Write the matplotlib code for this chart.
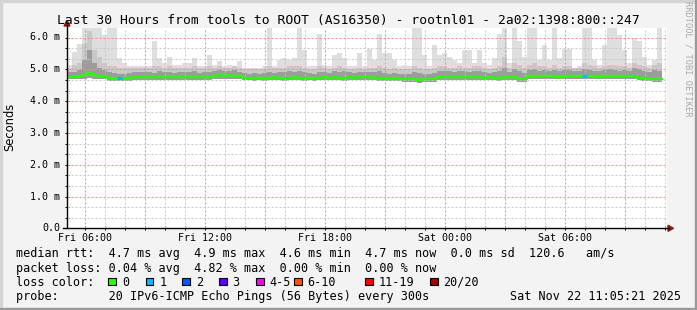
import numpy as np
import matplotlib
matplotlib.use('Agg')
import matplotlib.pyplot as plt
from matplotlib.patches import Rectangle, Polygon
from matplotlib.lines import Line2D

# ---- data (5 minute pings aggregated to 15 minute bins, values in ms) ----
t_start = 5.089   # hours since Fri 00:00
bin_h = 0.25

median = [4.76, 4.77, 4.79, 4.82, 4.87, 4.82, 4.80, 4.79, 4.74, 4.70,
          4.73, 4.71, 4.73, 4.76, 4.75, 4.76, 4.77, 4.75, 4.76, 4.77,
          4.76, 4.75, 4.77, 4.76, 4.75, 4.77, 4.76, 4.75, 4.76, 4.78,
          4.81, 4.80, 4.81, 4.80, 4.78, 4.74, 4.74, 4.73, 4.74, 4.73,
          4.74, 4.75, 4.74, 4.73, 4.74, 4.75, 4.74, 4.73, 4.74, 4.72,
          4.74, 4.75, 4.74, 4.75, 4.74, 4.73, 4.75, 4.74, 4.75, 4.76,
          4.75, 4.74, 4.73, 4.72, 4.71, 4.72, 4.71, 4.68, 4.69, 4.68,
          4.67, 4.68, 4.69, 4.70, 4.75, 4.76, 4.77, 4.76, 4.77, 4.76,
          4.77, 4.76, 4.75, 4.74, 4.75, 4.74, 4.73, 4.75, 4.76, 4.76,
          4.70, 4.68, 4.79, 4.80, 4.79, 4.78, 4.79, 4.78, 4.77, 4.78,
          4.79, 4.78, 4.78, 4.79, 4.80, 4.78, 4.77, 4.78, 4.79, 4.78,
          4.79, 4.80, 4.80, 4.78, 4.74, 4.72, 4.71, 4.70, 4.69, 4.70]

smoke_lo = [4.68, 4.68, 4.69, 4.70, 4.72, 4.70, 4.70, 4.68, 4.64, 4.62,
            4.63, 4.62, 4.64, 4.66, 4.66, 4.66, 4.67, 4.66, 4.66, 4.67,
            4.66, 4.66, 4.67, 4.66, 4.66, 4.67, 4.66, 4.66, 4.66, 4.68,
            4.70, 4.70, 4.70, 4.70, 4.68, 4.65, 4.65, 4.64, 4.65, 4.64,
            4.65, 4.65, 4.65, 4.64, 4.65, 4.65, 4.65, 4.64, 4.65, 4.63,
            4.65, 4.65, 4.65, 4.65, 4.65, 4.64, 4.65, 4.65, 4.65, 4.66,
            4.65, 4.65, 4.64, 4.63, 4.62, 4.63, 4.62, 4.59, 4.60, 4.59,
            4.58, 4.59, 4.60, 4.61, 4.66, 4.67, 4.67, 4.67, 4.67, 4.67,
            4.67, 4.67, 4.66, 4.65, 4.66, 4.65, 4.64, 4.66, 4.67, 4.67,
            4.61, 4.59, 4.70, 4.71, 4.70, 4.69, 4.70, 4.69, 4.68, 4.69,
            4.70, 4.69, 4.69, 4.70, 4.71, 4.69, 4.68, 4.69, 4.70, 4.69,
            4.70, 4.71, 4.71, 4.69, 4.65, 4.63, 4.62, 4.61, 4.60, 4.61]

smoke_core = [4.90, 4.92, 4.98, 5.30, 5.60, 5.20, 5.05, 4.98, 4.92, 4.88,
              4.86, 4.85, 4.88, 4.90, 4.90, 4.92, 4.90, 4.88, 4.95, 4.90,
              4.92, 4.88, 4.90, 4.92, 4.90, 4.95, 4.88, 4.90, 4.92, 4.95,
              4.98, 4.96, 4.95, 4.98, 4.92, 4.88, 4.86, 4.88, 4.86, 4.88,
              4.90, 4.88, 4.92, 4.90, 4.95, 4.92, 4.94, 4.90, 4.88, 4.86,
              4.92, 4.90, 4.88, 4.95, 4.92, 4.94, 4.90, 4.88, 4.90, 4.92,
              4.90, 4.92, 4.94, 4.88, 4.86, 4.88, 4.85, 4.84, 4.86, 4.90,
              4.88, 4.84, 4.86, 4.88, 4.94, 4.96, 4.95, 4.92, 4.96, 4.94,
              4.92, 4.95, 4.96, 4.90, 4.88, 4.92, 4.94, 5.05, 4.92, 5.00,
              4.95, 4.88, 4.98, 5.00, 4.96, 4.98, 4.95, 4.98, 4.96, 4.97,
              4.98, 4.95, 4.96, 5.00, 4.98, 4.96, 4.95, 4.98, 5.00, 4.98,
              4.96, 4.98, 4.96, 5.05, 5.00, 4.95, 4.92, 4.98, 4.95, 4.90]

smoke_hi = [5.05, 5.15, 5.20, 5.80, 6.20, 5.60, 5.40, 5.20, 5.10, 5.10,
            5.05, 5.05, 5.05, 5.05, 5.05, 5.05, 5.05, 5.10, 5.10, 5.05,
            5.10, 5.05, 5.05, 5.05, 5.05, 5.10, 5.05, 5.05, 5.10, 5.05,
            5.10, 5.05, 5.05, 5.10, 5.05, 5.00, 5.00, 5.00, 5.00, 5.00,
            5.10, 5.05, 5.05, 5.05, 5.10, 5.10, 5.10, 5.05, 5.00, 5.00,
            5.10, 5.05, 5.00, 5.05, 5.10, 5.05, 5.00, 5.00, 5.05, 5.00,
            5.05, 5.05, 5.10, 5.05, 5.00, 5.05, 5.00, 5.00, 5.00, 5.10,
            5.05, 5.00, 5.00, 5.05, 5.10, 5.10, 5.05, 5.05, 5.10, 5.05,
            5.05, 5.10, 5.10, 5.05, 5.00, 5.05, 5.10, 5.40, 5.05, 5.20,
            5.15, 5.05, 5.15, 5.20, 5.10, 5.10, 5.05, 5.15, 5.05, 5.10,
            5.10, 5.05, 5.05, 5.20, 5.15, 5.10, 5.05, 5.10, 5.15, 5.15,
            5.10, 5.10, 5.05, 5.20, 5.15, 5.10, 5.05, 5.15, 5.20, 5.05]

smoke_max = [5.15, 5.55, 5.80, 6.40, 6.40, 6.40, 6.40, 6.08, 6.40, 6.40,
             5.35, 5.19, 5.10, 5.10, 5.10, 5.10, 5.10, 5.90, 5.35, 5.20,
             5.40, 5.15, 5.14, 5.20, 5.20, 5.35, 5.10, 5.10, 5.45, 5.15,
             5.25, 5.10, 5.15, 5.10, 5.25, 5.05, 5.05, 5.05, 5.05, 5.10,
             6.40, 5.10, 5.30, 5.35, 5.30, 5.35, 6.30, 5.60, 5.10, 5.10,
             6.10, 5.15, 5.10, 5.45, 5.50, 5.35, 5.10, 5.10, 5.50, 5.10,
             5.65, 5.30, 6.10, 5.50, 5.50, 5.30, 5.10, 5.15, 5.10, 6.30,
             6.30, 5.45, 5.10, 5.75, 5.45, 5.50, 5.40, 5.30, 5.20, 5.60,
             5.60, 5.20, 5.60, 5.20, 5.15, 5.35, 6.10, 6.40, 5.20, 6.30,
             5.90, 5.40, 6.40, 6.40, 5.30, 5.75, 5.30, 6.40, 5.35, 5.65,
             5.65, 5.05, 5.10, 6.40, 6.40, 5.30, 5.15, 5.75, 6.40, 6.40,
             6.08, 5.60, 5.20, 6.00, 5.90, 5.40, 5.15, 5.30, 6.40, 6.40]

# lost pings (of 20) per bin
loss = [0] * 120
loss[10] = 1
loss[103] = 1

loss_labels = ['0', '1', '2', '3', '4-5', '6-10', '11-19', '20/20']
loss_colors = ['#26ff00', '#00b8ff', '#0059ff', '#5e00ff',
               '#ff00f5', '#ff5500', '#ff0000', '#a10000']

x_tick_hours = [6, 12, 18, 24, 30]
x_tick_labels = ['Fri 06:00', 'Fri 12:00', 'Fri 18:00', 'Sat 00:00', 'Sat 06:00']
y_tick_vals = [0, 1, 2, 3, 4, 5, 6]
y_tick_labels = ['0.0', '1.0 m', '2.0 m', '3.0 m', '4.0 m', '5.0 m', '6.0 m']

title = 'Last 30 Hours from tools to ROOT (AS16350) - rootnl01 - 2a02:1398:800::247'
line_rtt = 'median rtt:  4.7 ms avg  4.9 ms max  4.6 ms min  4.7 ms now  0.0 ms sd  120.6   am/s'
line_loss = 'packet loss: 0.04 % avg  4.82 % max  0.00 % min  0.00 % now'
line_probe = 'probe:       20 IPv6-ICMP Echo Pings (56 Bytes) every 300s'
stamp = 'Sat Nov 22 11:05:21 2025'

# ---- figure ----
W, H = 697, 310
PX_PER_MS = 31.8


def fx(x):
    return x / W


def fy(y):
    return 1 - y / H


mono = 'DejaVu Sans Mono'
fig = plt.figure(figsize=(W / 100, H / 100), dpi=100, facecolor='#f3f3f3')
ax = fig.add_axes([fx(67), fy(228.3), 600 / W, 200 / H])
ax.set_facecolor('white')
ax.set_xlim(t_start, t_start + 30)
ax.set_ylim(0, 200 / PX_PER_MS)
for s in ax.spines.values():
    s.set_visible(False)

t = t_start + bin_h * np.arange(len(median))
med = np.array(median)

ax.fill_between(t, smoke_lo, smoke_max, step='post', color='#dedede', lw=0, zorder=2)
ax.fill_between(t, smoke_lo, smoke_hi, step='post', color='#c8c8c8', lw=0, zorder=2)
ax.fill_between(t, smoke_lo, smoke_core, step='post', color='#9c9c9c', lw=0, zorder=2)

# grid on top of smoke, like rrdtool
dots = (0, (2, 2))
for h in range(6, 36):
    major = h % 3 == 0
    ax.axvline(h, color='#f08a8a' if major else '#c8c8c8', lw=0.72, ls=dots, zorder=3)
for k in range(1, 19):
    major = k % 3 == 0
    ax.axhline(k / 3, color='#f08a8a' if major else '#c8c8c8', lw=0.72, ls=dots, zorder=3)

# median line coloured by loss
loss_arr = np.array(loss)
ax.step(t, med, where='post', color=loss_colors[0], lw=1.7, zorder=5)
for i in np.where(loss_arr > 0)[0]:
    ax.hlines(med[i], t[i], t[i] + bin_h, colors=loss_colors[1], lw=2.0, zorder=6)

ax.set_xticks(range(6, 36), labels=[])
ax.set_yticks([k / 3 for k in range(0, 19)], labels=[])
ax.tick_params(direction='inout', length=3, width=0.7, color='black')

# axes with arrows
fig.add_artist(Line2D([fx(67), fx(67)], [fy(228.3), fy(25)], color='black', lw=1))
fig.add_artist(Line2D([fx(63), fx(669)], [fy(228.3), fy(228.3)], color='black', lw=1))
arrow_c = '#8b1a1a'
fig.add_artist(Polygon([(fx(64), fy(26)), (fx(70), fy(26)), (fx(67), fy(20.5))],
                       closed=True, color=arrow_c, transform=fig.transFigure))
fig.add_artist(Polygon([(fx(668), fy(225.3)), (fx(668), fy(231.3)), (fx(673.5), fy(228.3))],
                       closed=True, color=arrow_c, transform=fig.transFigure))

# tick labels
for h, lab in zip(x_tick_hours, x_tick_labels):
    fig.text(fx(67 + (h - t_start) * 20), fy(241), lab, family=mono, fontsize=7.2,
             ha='center', va='baseline')
for v, lab in zip(y_tick_vals, y_tick_labels):
    fig.text(fx(60), fy(228.3 - v * PX_PER_MS + 3), lab, family=mono, fontsize=7.2,
             ha='right', va='baseline')

fig.text(fx(348.5), fy(24), title, family=mono, fontsize=9.4, ha='center', va='baseline')
fig.text(fx(10), fy(127), 'Seconds', family='DejaVu Sans', fontsize=8.3,
         rotation=90, ha='center', va='center')
fig.text(fx(688), fy(59), 'RRDTOOL / TOBI OETIKER', family=mono, fontsize=6.2,
         color='#a8a8a8', rotation=270, ha='center', va='center')

# legend block
fs = 8.5
fig.text(fx(16), fy(257.5), line_rtt, family=mono, fontsize=fs, va='baseline')
fig.text(fx(16), fy(271.7), line_loss, family=mono, fontsize=fs, va='baseline')
fig.text(fx(16), fy(285.9), 'loss color:', family=mono, fontsize=fs, va='baseline')
box_x = [108.3, 145.7, 182.3, 219, 256, 294, 365, 430]
for bx, lab, c in zip(box_x, loss_labels, loss_colors):
    fig.add_artist(Rectangle((fx(bx), fy(285.3)), 7.5 / W, 7.5 / H, facecolor=c,
                             edgecolor='black', lw=0.8, transform=fig.transFigure))
    fig.text(fx(bx + 13.5), fy(285.9), lab, family=mono, fontsize=fs, va='baseline')
fig.text(fx(16), fy(300), line_probe, family=mono, fontsize=fs, va='baseline')
fig.text(fx(680.5), fy(300), stamp, family=mono, fontsize=fs, ha='right', va='baseline')

# 3d frame around the image
fig.add_artist(Rectangle((0, fy(1.5)), 1, 1.5 / H, color='#d4d4d4', transform=fig.transFigure))
fig.add_artist(Rectangle((0, 0), 1.5 / W, 1, color='#d4d4d4', transform=fig.transFigure))
fig.add_artist(Rectangle((fx(694.5), 0), 2.5 / W, 1, color='#9a9a9a', transform=fig.transFigure))
fig.add_artist(Rectangle((0, 0), 1, 2.5 / H, color='#9a9a9a', transform=fig.transFigure))

fig.savefig('out.png', dpi=100, facecolor=fig.get_facecolor())
